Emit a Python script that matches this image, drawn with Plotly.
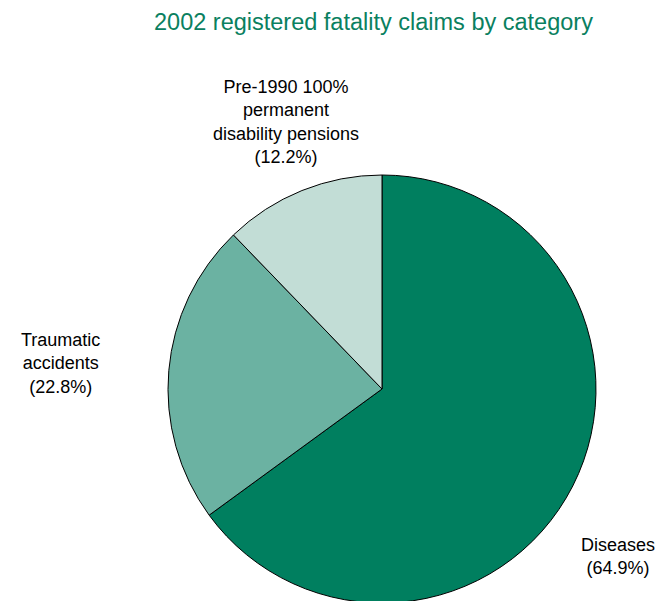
import plotly.graph_objects as go

categories = ["Diseases", "Traumatic accidents", "Pre-1990 100% permanent disability pensions"]
values = [64.9, 22.8, 12.2]
label_texts = ["Diseases<br>(64.9%)", "Traumatic<br>accidents<br>(22.8%)",
               "Pre-1990 100%<br>permanent<br>disability pensions<br>(12.2%)"]
colors = ["#007F5F", "#6BB2A2", "#C2DDD6"]

W, H = 671, 601
OFF = 8  # page body margin offset
cx, cy, r = 382 - OFF, 389 - OFF, 214

fig = go.Figure(go.Pie(
    labels=categories, values=values, sort=False, direction="clockwise", rotation=0,
    marker=dict(colors=colors, line=dict(color="black", width=1)),
    textinfo="none", hoverinfo="label+percent", showlegend=False,
    domain=dict(x=[(cx - r) / W, (cx + r) / W], y=[(H - (cy + r)) / H, (H - (cy - r)) / H]),
))

label_pos = [(618, 556), (60, 363), (286, 122)]
for txt, (x, y) in zip(label_texts, label_pos):
    fig.add_annotation(x=(x - OFF) / W, y=1 - (y - OFF) / H, xref="paper", yref="paper", text=txt,
                       showarrow=False, xanchor="center", yanchor="middle", align="center",
                       font=dict(size=18, color="black", family="Liberation Sans, Arial"))

fig.add_annotation(x=(373 - OFF) / W, y=1, xref="paper", yref="paper",
                   text="2002 registered fatality claims by category", showarrow=False,
                   xanchor="center", yanchor="top", borderpad=0,
                   font=dict(size=23.5, color="#0A8060", family="Liberation Sans, Arial"))

fig.update_layout(width=W, height=H, margin=dict(l=0, r=0, t=0, b=0),
                  paper_bgcolor="white", plot_bgcolor="white")
fig.write_html("out.html")
